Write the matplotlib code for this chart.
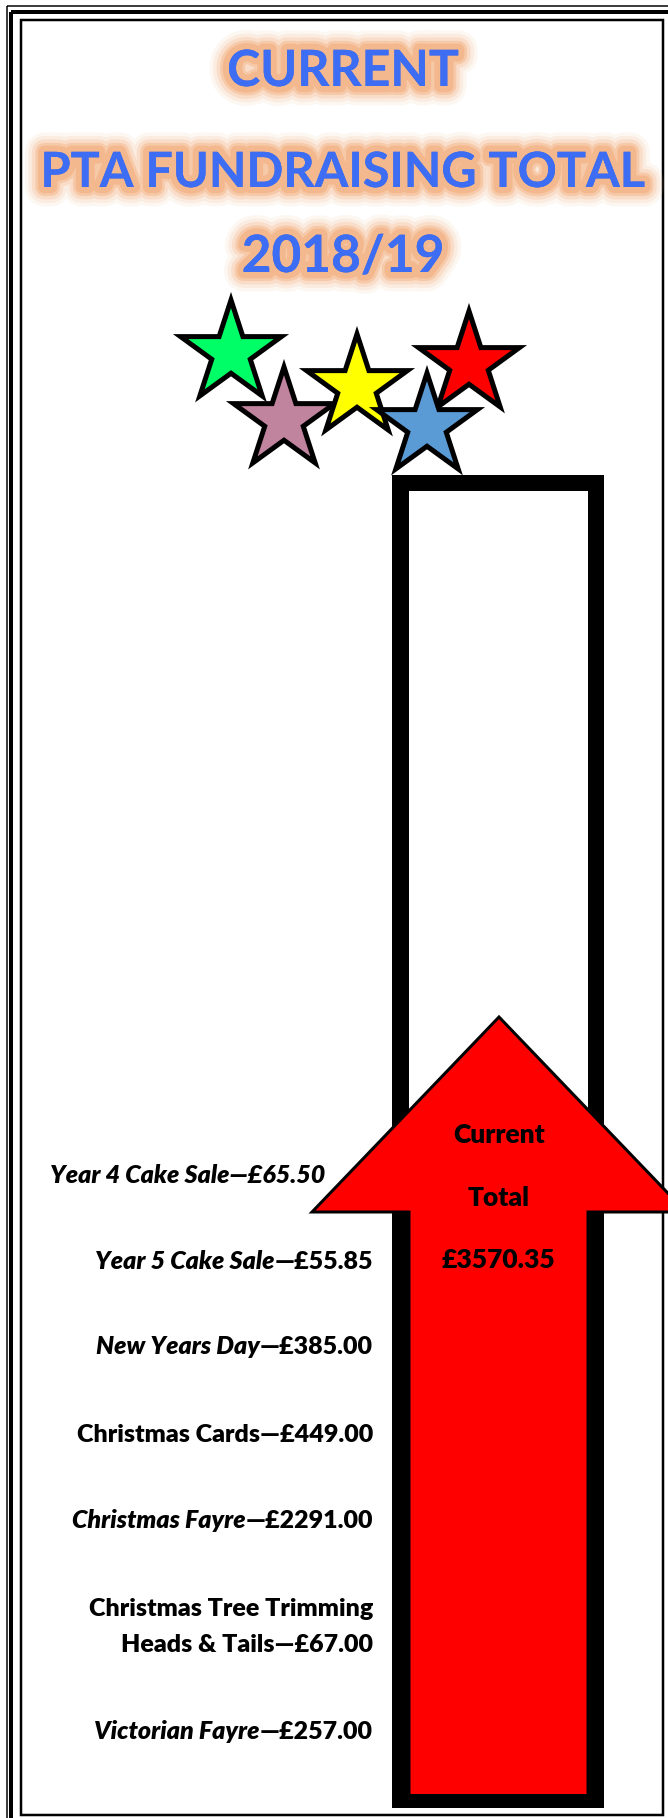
import matplotlib
matplotlib.use('Agg')
import matplotlib.pyplot as plt
import matplotlib.patheffects as pe
from matplotlib.patches import Rectangle, Polygon
import numpy as np

FONT = 'Lato'
BLUE = '#3D6DF2'
GLOW = '#F4B183'
RED = '#FF0000'

# Data: fundraising events (newest at the top) and amounts in GBP
events = [
    'Year 4 Cake Sale',
    'Year 5 Cake Sale',
    'New Years Day',
    'Christmas Cards',
    'Christmas Fayre',
    'Christmas Tree Trimming\nHeads & Tails',
    'Victorian Fayre',
]
amounts = [65.50, 55.85, 385.00, 449.00, 2291.00, 67.00, 257.00]
total = sum(amounts)

# Layout (pixel coords, y down)
label_style = ['all', 'name', 'name', 'none', 'name', 'none', 'name']
label_base = [1183, 1269, 1354, 1442, 1528, 1652, 1739]
label_right = [325, 373, 373, 373, 373, 373, 373]

fig = plt.figure(figsize=(6.68, 18.18), dpi=100)
ax = fig.add_axes([0, 0, 1, 1])
ax.set_xlim(0, 668)
ax.set_ylim(1818, 0)
ax.axis('off')
PX = 0.72  # points per pixel

# page border (outer lines run off right/bottom)
ax.add_patch(Rectangle((6.5, 5.5), 700, 1850, fill=False, ec='black', lw=1.5 * PX))
ax.add_patch(Rectangle((11, 12), 700, 1850, fill=False, ec='black', lw=4 * PX))
ax.add_patch(Rectangle((20.5, 20), 642, 1795, fill=False, ec='black', lw=2.5 * PX, zorder=2))

# title with orange glow
glow = [pe.withStroke(linewidth=w, foreground=GLOW, alpha=a)
        for w, a in [(28, 0.10), (23, 0.15), (18, 0.25), (13, 0.45), (9, 0.7)]] + [pe.Normal()]
for s, y, fs in [('CURRENT', 86, 36), ('PTA FUNDRAISING TOTAL', 187, 35), ('2018/19', 272, 37)]:
    ax.text(343, y, s, ha='center', va='baseline', fontsize=fs, fontweight='bold',
            family=FONT, color=BLUE, path_effects=glow)

# stars
def star(cx, cy, r, color):
    ang = np.pi / 2 + np.arange(10) * np.pi / 5
    rad = np.where(np.arange(10) % 2 == 0, r, r * 0.382)
    pts = np.column_stack([cx + rad * np.cos(ang), cy - rad * np.sin(ang)])
    ax.add_patch(Polygon(pts, closed=True, fc=color, ec='black', lw=5 * PX,
                         joinstyle='miter', zorder=3))

for cx, cy, c in [(231, 353, '#00FF66'), (284, 420, '#C0849F'), (357, 387, '#FFFF00'),
                  (469, 364, '#FF0000'), (427, 426, '#5B9BD5')]:
    star(cx, cy, 53, c)

# thermometer tube
ax.add_patch(Rectangle((392, 475), 212, 1333, fc='black', ec='none', zorder=2))
ax.add_patch(Rectangle((409, 491), 179, 1303, fc='white', ec='none', zorder=2))

# red arrow
arrow = [(409, 1794), (409, 1212), (312, 1212), (499, 1017),
         (686, 1212), (588, 1212), (588, 1794)]
ax.add_patch(Polygon(arrow, closed=False, fc=RED, ec='black', lw=3 * PX,
                     joinstyle='miter', zorder=4))
ax.add_patch(Rectangle((411, 1214), 175, 580, fc=RED, ec='none', zorder=4))

for s, y in [('Current', 1143), ('Total', 1206), (f'£{total:.2f}', 1268)]:
    ax.text(499, y, s, ha='center', va='baseline', fontsize=19, fontweight='heavy',
            family=FONT, color='black', zorder=5)

# event labels
fig.canvas.draw()
rend = fig.canvas.get_renderer()
inv = ax.transData.inverted()
kw = dict(va='baseline', fontsize=18, fontweight='heavy', family=FONT, color='black')
for name, amt, st, y, xr in zip(events, amounts, label_style, label_base, label_right):
    money = f'—£{amt:.2f}'
    if st == 'all':
        ax.text(xr, y, name + money, ha='right', style='italic', **kw)
    elif st == 'none':
        ax.text(xr, y, name + money, ha='right', multialignment='right',
                linespacing=1.75, **kw)
    else:
        t = ax.text(xr, y, money, ha='right', **kw)
        x0 = inv.transform((t.get_window_extent(rend).x0, 0))[0]
        ax.text(x0, y, name, ha='right', style='italic', **kw)

fig.savefig('out.png', dpi=100, facecolor='white')
